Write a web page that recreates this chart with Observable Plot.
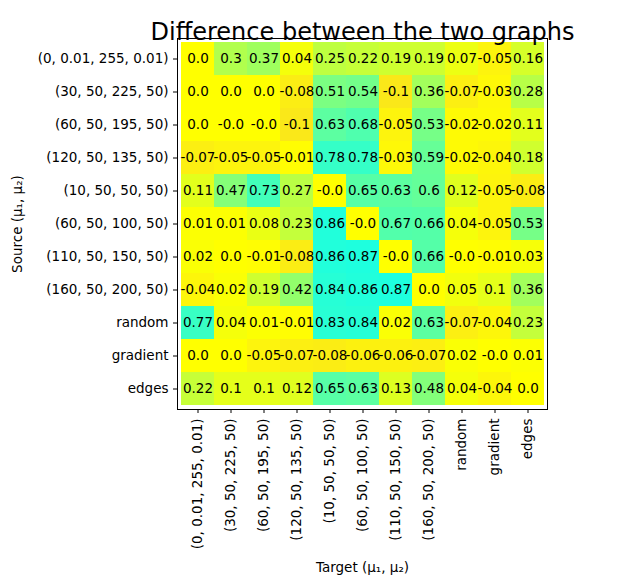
<!DOCTYPE html>
<html>
<head>
<meta charset="utf-8">
<script src="https://cdn.jsdelivr.net/npm/d3@7"></script>
<script src="https://cdn.jsdelivr.net/npm/@observablehq/plot@0.6"></script>
<style>
  body { margin: 0; background: #fff; }
  svg { font-family: "DejaVu Sans", sans-serif; }
</style>
</head>
<body>
<div id="chart"></div>
<script>
const labels = [
  "(0, 0.01, 255, 0.01)", "(30, 50, 225, 50)", "(60, 50, 195, 50)", "(120, 50, 135, 50)",
  "(10, 50, 50, 50)", "(60, 50, 100, 50)", "(110, 50, 150, 50)", "(160, 50, 200, 50)",
  "random", "gradient", "edges"
];

// rows = source, columns = target
const values = [
  ["0.0", "0.3", "0.37", "0.04", "0.25", "0.22", "0.19", "0.19", "0.07", "-0.05", "0.16"],
  ["0.0", "0.0", "0.0", "-0.08", "0.51", "0.54", "-0.1", "0.36", "-0.07", "-0.03", "0.28"],
  ["0.0", "-0.0", "-0.0", "-0.1", "0.63", "0.68", "-0.05", "0.53", "-0.02", "-0.02", "0.11"],
  ["-0.07", "-0.05", "-0.05", "-0.01", "0.78", "0.78", "-0.03", "0.59", "-0.02", "-0.04", "0.18"],
  ["0.11", "0.47", "0.73", "0.27", "-0.0", "0.65", "0.63", "0.6", "0.12", "-0.05", "-0.08"],
  ["0.01", "0.01", "0.08", "0.23", "0.86", "-0.0", "0.67", "0.66", "0.04", "-0.05", "0.53"],
  ["0.02", "0.0", "-0.01", "-0.08", "0.86", "0.87", "-0.0", "0.66", "-0.0", "-0.01", "0.03"],
  ["-0.04", "0.02", "0.19", "0.42", "0.84", "0.86", "0.87", "0.0", "0.05", "0.1", "0.36"],
  ["0.77", "0.04", "0.01", "-0.01", "0.83", "0.84", "0.02", "0.63", "-0.07", "-0.04", "0.23"],
  ["0.0", "0.0", "-0.05", "-0.07", "-0.08", "-0.06", "-0.06", "-0.07", "0.02", "-0.0", "0.01"],
  ["0.22", "0.1", "0.1", "0.12", "0.65", "0.63", "0.13", "0.48", "0.04", "-0.04", "0.0"]
];

const cells = [];
values.forEach((row, i) => row.forEach((v, j) =>
  cells.push({source: labels[i], target: labels[j], label: v, value: +v})));

const col = d3.scaleLinear()
  .domain([-0.1, 0, 0.87])
  .range(["rgb(250,232,25)", "rgb(255,255,0)", "rgb(30,255,222)"])
  .clamp(true);

const chart = Plot.plot({
  width: 617,
  height: 586,
  marginLeft: 177,
  marginRight: 70,
  marginTop: 38,
  marginBottom: 177,
  style: {fontSize: "13.5px", fontFamily: "DejaVu Sans, sans-serif"},
  x: {
    domain: labels, padding: 0, tickRotate: -90, tickSize: 4,
    label: "Target (μ₁, μ₂)", labelAnchor: "center", labelOffset: 162, labelArrow: "none"
  },
  y: {
    domain: labels, padding: 0, tickSize: 4,
    label: "Source (μ₁, μ₂)", labelAnchor: "center", labelOffset: 165, labelArrow: "none"
  },
  marks: [
    Plot.cell(cells, {x: "target", y: "source", fill: (d) => col(d.value)}),
    Plot.text(cells, {x: "target", y: "source", text: "label", fill: "black", fontSize: 13.5}),
    Plot.frame({stroke: "black"}),
    Plot.text(["Difference between the two graphs"], {
      frameAnchor: "top", dy: -16, fontSize: 24, fill: "black"
    })
  ]
});

document.getElementById("chart").append(chart);
</script>
</body>
</html>
